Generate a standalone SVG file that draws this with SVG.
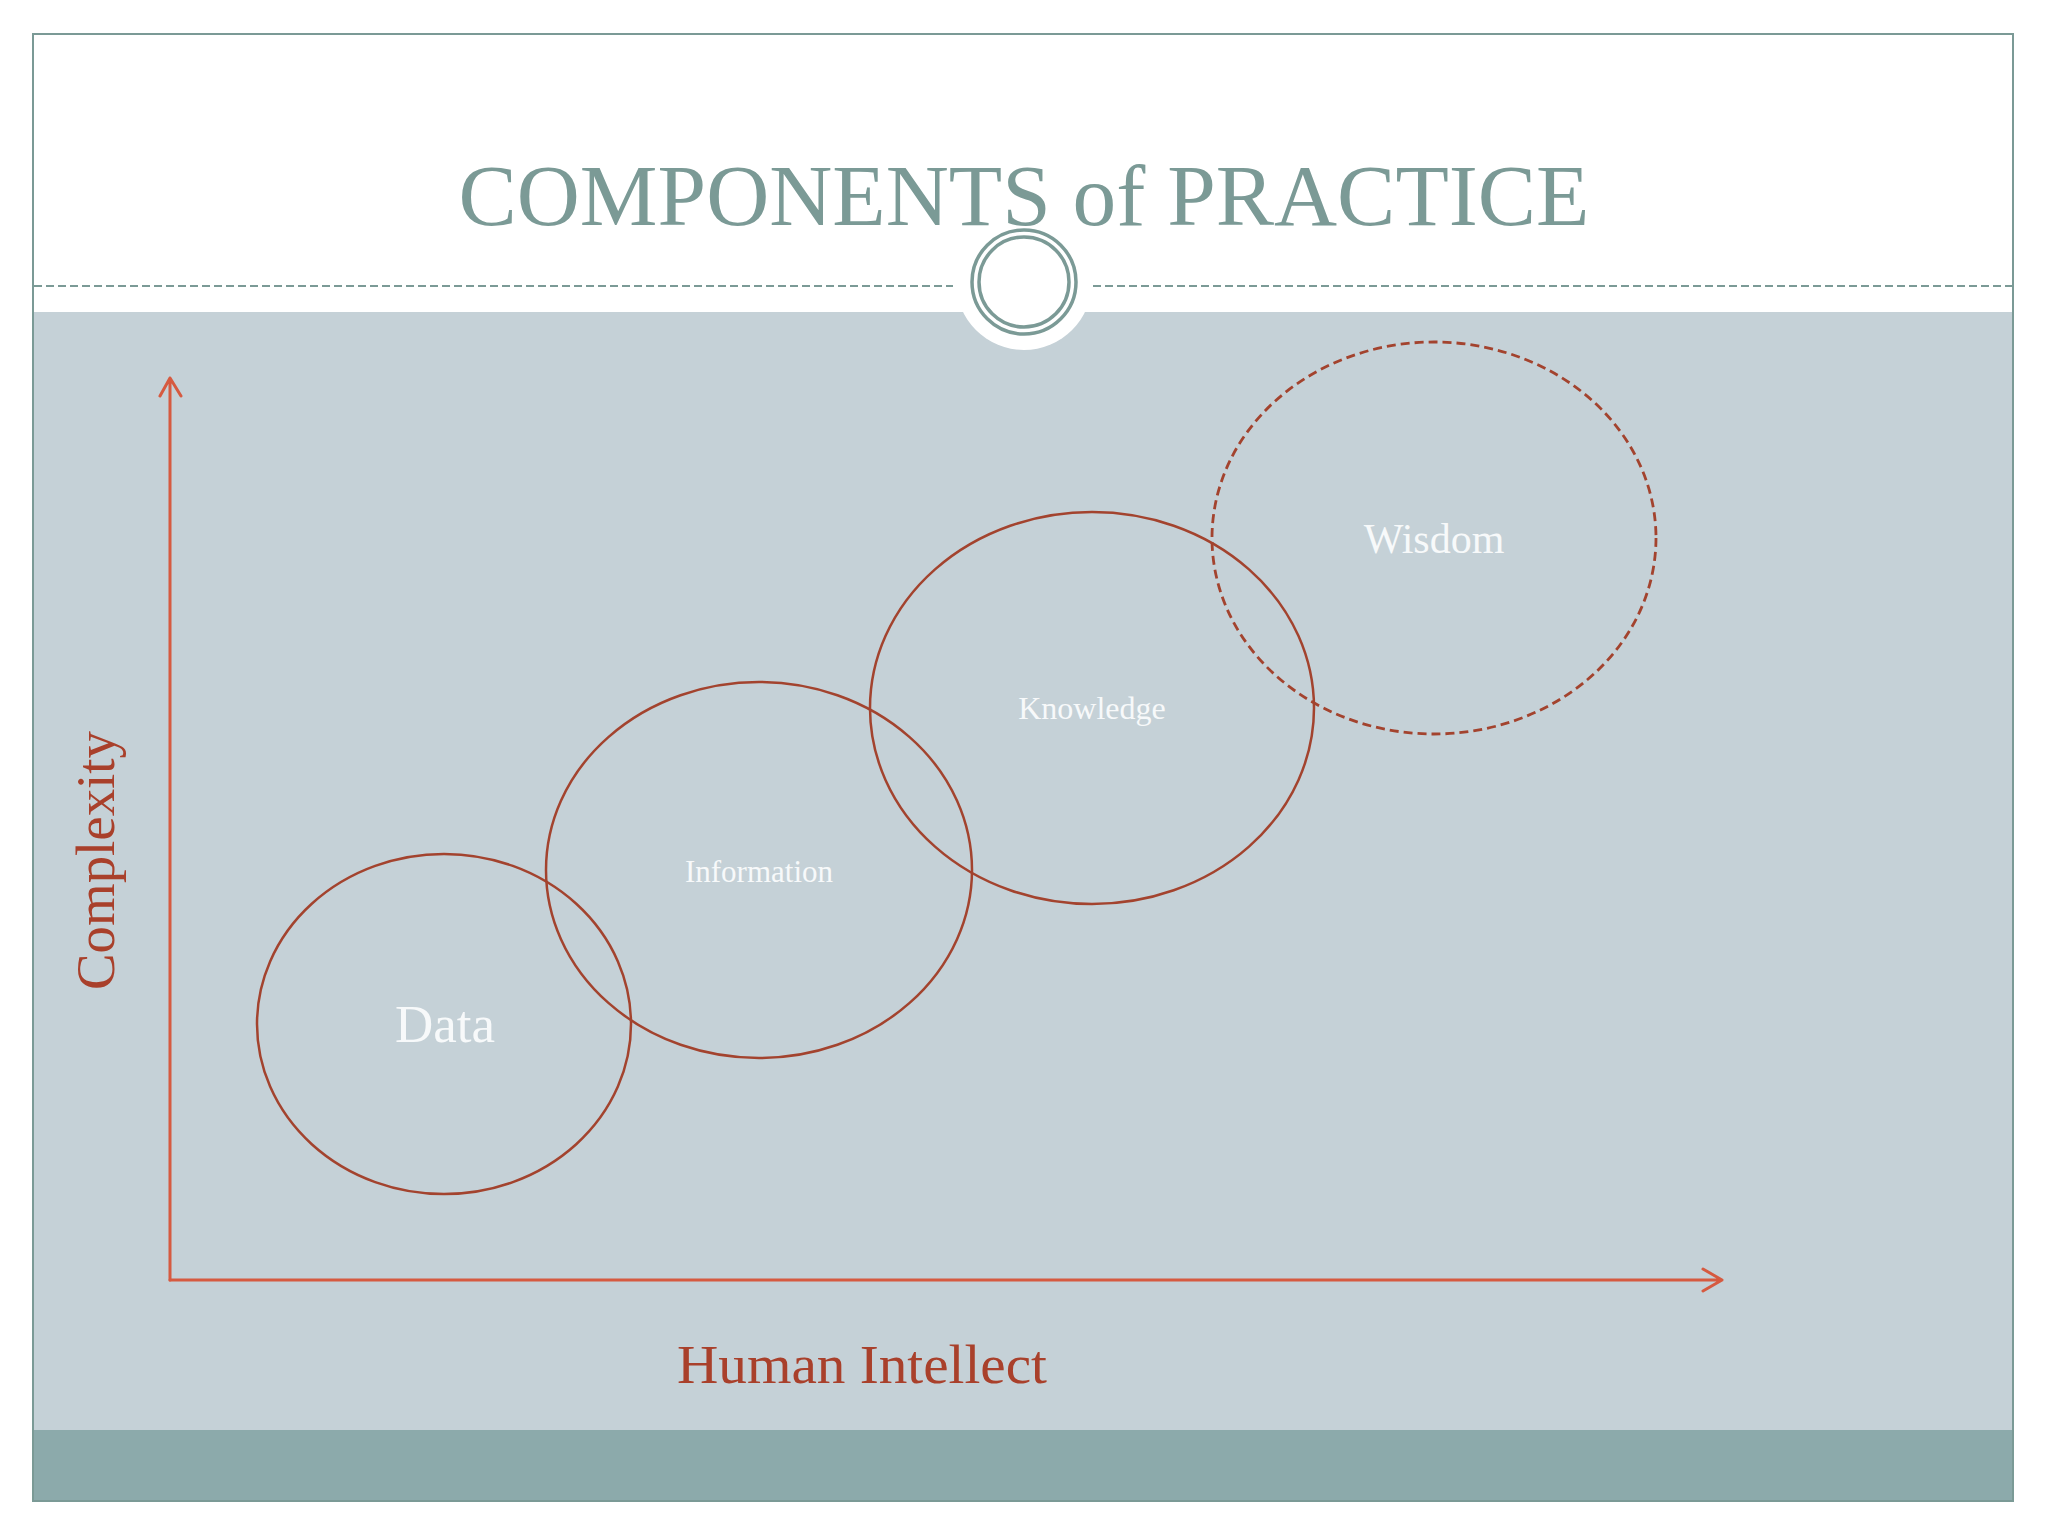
<svg xmlns="http://www.w3.org/2000/svg" width="2048" height="1536" viewBox="0 0 2048 1536">
  <defs>
    <style>
      .ring { fill: none; stroke: #A3432E; stroke-width: 2.5; }
      .dash { stroke-dasharray: 9 5; stroke-width: 2.8; }
      .inlbl { font-family: "Liberation Serif", "Times New Roman", serif; fill: #F7F9FA; text-anchor: middle; }
      .axlbl { font-family: "Liberation Serif", "Times New Roman", serif; fill: #A9402B; }
      .axis { fill: none; stroke: #D65A40; stroke-width: 3; stroke-linecap: round; stroke-linejoin: round; }
      .teal { stroke: #7B9A96; fill: none; }
    </style>
  </defs>
  <rect x="0" y="0" width="2048" height="1536" fill="#FFFFFF"/>
  <!-- slide background -->
  <rect x="33" y="312" width="1980" height="1118" fill="#C5D1D7"/>
  <rect x="33" y="1430" width="1980" height="70" fill="#8CAAAB"/>
  <rect x="33" y="34" width="1980" height="1467" fill="none" stroke="#7B9A96" stroke-width="2"/>
  <!-- divider + ornament -->
  <line x1="34" y1="286" x2="953" y2="286" class="teal" stroke-width="2" stroke-dasharray="8 4"/>
  <line x1="1093" y1="286" x2="2012" y2="286" class="teal" stroke-width="2" stroke-dasharray="8 4"/>
  <circle cx="1024" cy="282" r="68" fill="#FFFFFF"/>
  <circle cx="1024" cy="282" r="52" class="teal" stroke-width="3.5"/>
  <circle cx="1024" cy="282" r="45" class="teal" stroke-width="3.5"/>
  <!-- title -->
  <text x="1024" y="225" font-family="Liberation Serif, Times New Roman, serif" font-size="87" fill="#7B9A96" text-anchor="middle" textLength="1131" lengthAdjust="spacingAndGlyphs">COMPONENTS of PRACTICE</text>
  <!-- connectors (axes) -->
  <g id="connectors">
    <path class="axis" d="M170 1280 L170 378 M160 396 L170 378 L181 396"/>
    <path class="axis" d="M170 1280 L1722 1280 M1703 1269 L1722 1280 L1703 1291"/>
  </g>
  <!-- nodes -->
  <g id="node-data">
    <ellipse class="ring" cx="444" cy="1024" rx="187" ry="170"/>
    <text class="inlbl" x="445" y="1042" font-size="53">Data</text>
  </g>
  <g id="node-information">
    <ellipse class="ring" cx="759" cy="870" rx="213" ry="188"/>
    <text class="inlbl" x="759" y="882" font-size="31">Information</text>
  </g>
  <g id="node-knowledge">
    <ellipse class="ring" cx="1092" cy="708" rx="222" ry="196"/>
    <text class="inlbl" x="1092" y="719" font-size="32">Knowledge</text>
  </g>
  <g id="node-wisdom">
    <ellipse class="ring dash" cx="1434" cy="538" rx="222" ry="196"/>
    <text class="inlbl" x="1434" y="553" font-size="42">Wisdom</text>
  </g>
  <!-- axis labels -->
  <text class="axlbl" x="677" y="1383" font-size="55" textLength="370" lengthAdjust="spacingAndGlyphs">Human Intellect</text>
  <text class="axlbl" transform="translate(114 990) rotate(-90)" x="0" y="0" font-size="55" textLength="259" lengthAdjust="spacingAndGlyphs">Complexity</text>
</svg>
